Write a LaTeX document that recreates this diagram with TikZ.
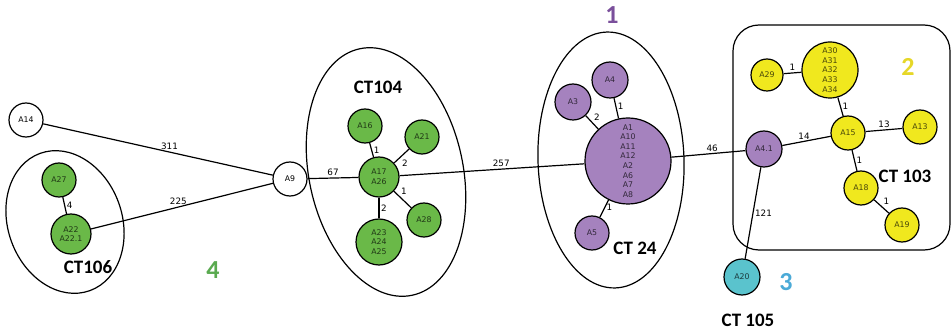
\documentclass[tikz,border=0pt]{standalone}
\usepackage{fontspec}
\setmainfont{DejaVu Sans}
\newfontfamily\ctfont{Carlito}
\usepackage{tikz}

\definecolor{stgreen}{HTML}{6AB948}
\definecolor{stpurple}{HTML}{A582BE}
\definecolor{styellow}{HTML}{F0E81E}
\definecolor{stcyan}{HTML}{5AC3CD}
\definecolor{numpurple}{HTML}{7A4F9B}
\definecolor{numgreen}{HTML}{5AAA50}
\definecolor{numcyan}{HTML}{4BAAD7}
\definecolor{numyellow}{HTML}{E6D728}

\begin{document}
\begin{tikzpicture}[x=1pt, y=-1pt, line width=1.2pt,
	st/.style={circle, draw=black, inner sep=0pt, align=center, font=\fontsize{7.8}{9.6}\selectfont},
	gr/.style={st, fill=stgreen, text=stgreen!30!black},
	pu/.style={st, fill=stpurple, text=stpurple!30!black},
	ye/.style={st, fill=styellow, text=styellow!30!black},
	lab/.style={font=\fontsize{8.8}{10}\selectfont, inner sep=1.5pt},
	ct/.style={font=\ctfont\bfseries\fontsize{19}{20}\selectfont},
	grp/.style={font=\ctfont\bfseries\fontsize{26}{26}\selectfont}]
				\useasboundingbox (0,0) rectangle (951,331);
				
				% groups
				\draw[rotate around={20:(65,222)}] (65,222) ellipse [x radius=57, y radius=73];
				\draw[rotate around={12:(386,172)}] (386,172) ellipse [x radius=77, y radius=126];
				\draw[rotate around={2:(611,160)}] (611,160) ellipse [x radius=73, y radius=128];
				\draw[rounded corners=26pt] (733,25) rectangle (950,250);
				
				\node[st, minimum size=34pt] (a14) at (26,120) {A14};
				\node[st, minimum size=34pt] (a9) at (290,179) {A9};
				
				\node[gr, minimum size=34pt] (a27) at (59,180) {A27};
				\node[gr, minimum size=40pt] (a22) at (71,234) {A22\\A22.1};
				
				\node[gr, minimum size=34pt] (a16) at (365,126) {A16};
				\node[gr, minimum size=34pt] (a21) at (422,137) {A21};
				\node[gr, minimum size=40pt] (a17) at (379,177) {A17\\A26};
				\node[gr, minimum size=34pt] (a28) at (424,220) {A28};
				\node[gr, minimum size=46pt] (a23) at (379,242) {A23\\A24\\A25};
				
				\node[pu, minimum size=36pt] (a4) at (610,80) {A4};
				\node[pu, minimum size=36pt] (a3) at (573,102) {A3};
				\node[pu, minimum size=86pt] (a1) at (628,161) {A1\\A10\\A11\\A12\\A2\\A6\\A7\\A8};
				\node[pu, minimum size=34pt] (a5) at (592,233) {A5};
				\node[pu, minimum size=36pt] (a41) at (764,149) {A4.1};
				
				\node[ye, minimum size=32pt] (a29) at (767,75) {A29};
				\node[ye, minimum size=56pt] (a30) at (830,70) {A30\\A31\\A32\\A33\\A34};
				\node[ye, minimum size=34pt] (a15) at (848,133) {A15};
				\node[ye, minimum size=34pt] (a13) at (920,127) {A13};
				\node[ye, minimum size=34pt] (a18) at (861,188) {A18};
				\node[ye, minimum size=34pt] (a19) at (902,225) {A19};
				
				\node[st, fill=stcyan, text=stcyan!30!black, minimum size=36pt] (a20) at (742,277) {A20};
				
				% distances
				\path (a14) edge node[lab, pos=0.55, above] {311} (a9);
				\path (a22) edge node[lab, pos=0.48, above] {225} (a9);
				\path (a27) edge node[lab, right] {4} (a22);
				\path (a9) edge node[lab, above] {67} (a17);
				\path (a17) edge node[lab, pos=0.55, above] {257} (a1);
				\path (a17) edge node[lab, pos=0.45, right] {1} (a16);
				\path (a17) edge node[lab, pos=0.4, below right] {2} (a21);
				\path (a17) edge node[lab, pos=0.3, above right] {1} (a28);
				\path (a17) edge node[lab, right] {2} (a23);
				\path (a1) edge node[lab, pos=0.6, right] {1} (a4);
				\path (a1) edge node[lab, pos=0.5, above right] {2} (a3);
				\path (a1) edge node[lab, pos=0.45, right] {1} (a5);
				\path (a1) edge node[lab, pos=0.55, above] {46} (a41);
				\path (a41) edge node[lab, pos=0.45, above] {14} (a15);
				\path (a41) edge node[lab, pos=0.5, right] {121} (a20);
				\path (a29) edge node[lab, above] {1} (a30);
				\path (a30) edge node[lab, pos=0.5, right] {1} (a15);
				\path (a15) edge node[lab, above] {13} (a13);
				\path (a15) edge node[lab, right] {1} (a18);
				\path (a18) edge node[lab, above right] {1} (a19);
				
				% labels
				\node[ct] (ct106) at (88,267) {CT106};
				\node[ct] (ct104) at (378,87) {CT104};
				\node[ct] (ct24) at (635,248) {CT 24};
				\node[ct] (ct103) at (905,176) {CT 103};
				\node[ct] (ct105) at (748,320) {CT 105};
				\node[grp, text=numpurple] (g1) at (612,15) {1};
				\node[grp, text=numyellow] (g2) at (908,67) {2};
				\node[grp, text=numcyan] (g3) at (786,282) {3};
				\node[grp, text=numgreen] (g4) at (213,270) {4};
				\end{tikzpicture}
\end{document}
